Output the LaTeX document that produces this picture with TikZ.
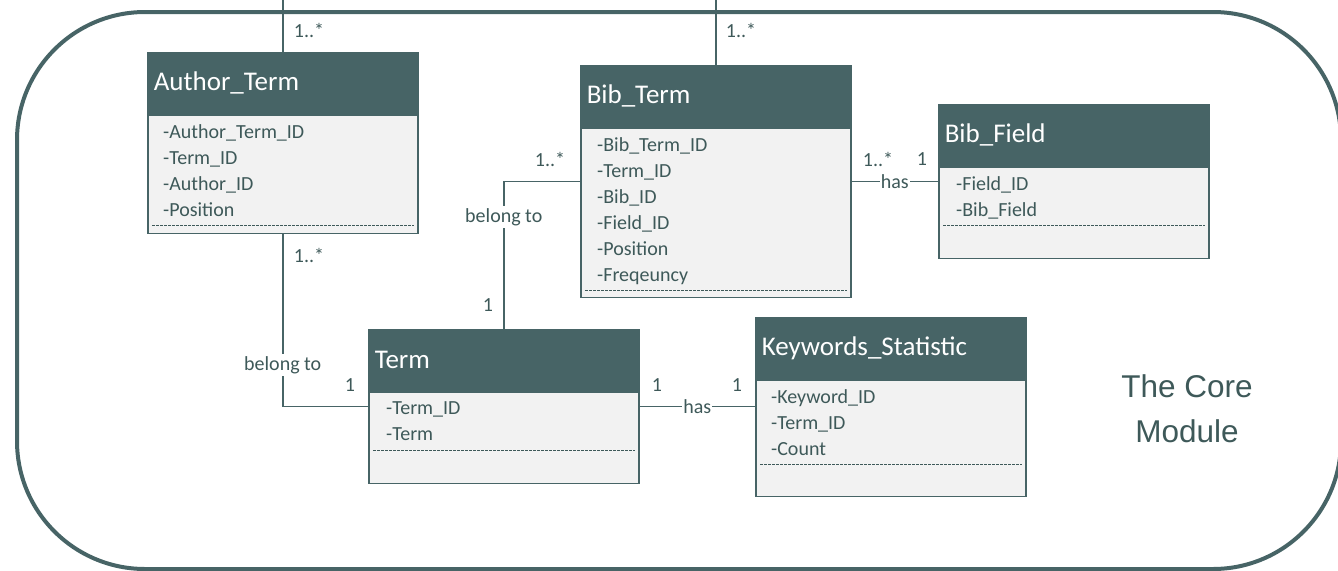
\documentclass[tikz,border=0pt]{standalone}
\usepackage{fontspec}
\setmainfont{Carlito}
\newfontfamily\modulefont{Liberation Sans}
\usetikzlibrary{positioning, calc}

\definecolor{slate}{HTML}{476466}
\definecolor{slateink}{HTML}{3E5959}
\definecolor{paper}{HTML}{F2F2F2}

\begin{document}
\begin{tikzpicture}[x=1pt,y=-1pt,
	head/.style={draw=slate, line width=1.5pt, fill=slate, text=white, anchor=north west,
		minimum width=270pt, minimum height=61pt, inner xsep=6pt, text width=258pt,
		align=left, font=\fontsize{27}{30}\selectfont},
	body/.style={draw=slate, line width=1.5pt, fill=paper, minimum width=270pt, inner sep=0pt},
	attr/.style={anchor=north west, inner sep=0pt, align=left, text=slateink,
		font=\fontsize{20}{26}\selectfont},
	sep/.style={draw=slateink, line width=0.8pt, dash pattern=on 2.5pt off 1.5pt},
	link/.style={draw=slate, line width=1.5pt},
	mult/.style={text=slateink, inner sep=0pt, font=\fontsize{20}{24}\selectfont},
	role/.style={fill=white, text=slateink, inner sep=2.5pt, font=\fontsize{20}{24}\selectfont}]
	
	\useasboundingbox (0,0) rectangle (1338,570);
	
	%Module frame
	\draw[slate, line width=4pt, rounded corners=128pt] (17,12) rectangle (1341,569);
	\node[text=slateink, align=center, font=\modulefont\fontsize{31.5}{45}\selectfont] (core)
		at (1187,409) {The Core\\Module};
	
	%Classes
	\node[head] (at) at (147,52) {Author\_Term};
	\node[body, minimum height=118pt] (atb) [below=0pt of at] {};
	\node[attr] (atl) at ($(atb.north west)+(16,10)$)
		{-Author\_Term\_ID\\-Term\_ID\\-Author\_ID\\-Position};
	\draw[sep] ($(atb.north west)+(5,111)$) -- ($(atb.north east)+(-5,111)$);
	
	\node[head] (bt) at (580,65) {Bib\_Term};
	\node[body, minimum height=169pt] (btb) [below=0pt of bt] {};
	\node[attr] (btl) at ($(btb.north west)+(17,10)$)
		{-Bib\_Term\_ID\\-Term\_ID\\-Bib\_ID\\-Field\_ID\\-Position\\-Freqeuncy};
	\draw[sep] ($(btb.north west)+(5,163)$) -- ($(btb.north east)+(-5,163)$);
	
	\node[head] (bf) at (938,104) {Bib\_Field};
	\node[body, minimum height=91pt] (bfb) [below=0pt of bf] {};
	\node[attr] (bfl) at ($(bfb.north west)+(18,10)$) {-Field\_ID\\-Bib\_Field};
	\draw[sep] ($(bfb.north west)+(5,59)$) -- ($(bfb.north east)+(-5,59)$);
	
	\node[head] (tm) at (368,329) {Term};
	\node[body, minimum height=91pt] (tmb) [below=0pt of tm] {};
	\node[attr] (tml) at ($(tmb.north west)+(18,10)$) {-Term\_ID\\-Term};
	\draw[sep] ($(tmb.north west)+(5,59)$) -- ($(tmb.north east)+(-5,59)$);
	
	\node[head] (ks) at (755,317) {Keywords\_Statistic};
	\node[body, minimum height=116pt] (ksb) [below=0pt of ks] {};
	\node[attr] (ksl) at ($(ksb.north west)+(16,10)$) {-Keyword\_ID\\-Term\_ID\\-Count};
	\draw[sep] ($(ksb.north west)+(5,85)$) -- ($(ksb.north east)+(-5,85)$);
	
	%Associations
	\coordinate (atTop) at (at.north |- 0,0);
	\coordinate (btTop) at (bt.north |- 0,0);
	\draw[link] (atTop) -- (at.north);
	\draw[link] (btTop) -- (bt.north);
	\draw[link] (atb.south) |- node[role, pos=0.38] (r1) {belong to} ([yshift=-15pt]tmb.north west);
	\draw[link] (tm.north) |- node[role, pos=0.38] (r2) {belong to} ([yshift=-54pt]btb.north west);
	\draw[link] ([yshift=-54pt]btb.north east) -- node[role, inner xsep=1pt] (r3) {has}
		([yshift=-15pt]bfb.north west);
	\draw[link] ([yshift=-15pt]tmb.north east) -- node[role, inner xsep=1pt] (r4) {has}
		([yshift=-27pt]ksb.north west);
	
	%Multiplicities
	\node[mult] (m1) at (309,30) {1..*};
	\node[mult] (m2) at (741,30) {1..*};
	\node[mult] (m3) at (309,255) {1..*};
	\node[mult] (m4) at (350,385) {1};
	\node[mult] (m5) at (488,305) {1};
	\node[mult] (m6) at (550,159) {1..*};
	\node[mult] (m7) at (878,159) {1..*};
	\node[mult] (m8) at (922,159) {1};
	\node[mult] (m9) at (657,385) {1};
	\node[mult] (m10) at (737,385) {1};
	
\end{tikzpicture}
\end{document}
